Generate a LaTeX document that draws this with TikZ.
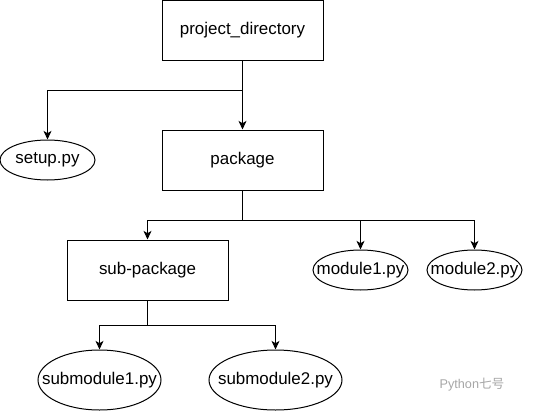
\documentclass[tikz,border=0pt]{standalone}
\usepackage{fontspec}
\setmainfont{Liberation Sans}
\newfontfamily\cjkfont{Noto Sans CJK SC}
\usetikzlibrary{arrows.meta,shapes.geometric}
\tikzset{%
	dirbox/.style  = {draw, rectangle, minimum width=120.75pt, minimum height=45pt, inner sep=0pt, text centered},
	filebox/.style = {draw, ellipse, inner sep=0pt, text centered},
	arrow/.style   = {->,>={Stealth[length=6.5pt,width=6pt,inset=1.8pt]}},
}

\begin{document}
\begin{tikzpicture}[x=0.75pt,y=-0.75pt,line width=0.75pt,font=\fontsize{12.7}{15}\selectfont]
		\useasboundingbox (0,0) rectangle (551,411);
		% directories
		\node[dirbox] (projdir) at (242.5,30.5) {project\_directory};
		\node[dirbox] (pkg) at (242.5,160) {package};
		\node[dirbox] (subpkg) at (147.5,270) {sub-package};
		
		% files
		\node[filebox, minimum width=71.25pt, minimum height=30pt] (setup) at (47.5,160) {\makebox[0pt]{setup.py}};
		\node[filebox, minimum width=71.25pt, minimum height=30pt] (mod1) at (360.5,270) {\makebox[0pt]{module1.py}};
		\node[filebox, minimum width=71.25pt, minimum height=30pt] (mod2) at (474.5,270) {\makebox[0pt]{module2.py}};
		\node[filebox, minimum width=92.25pt, minimum height=45pt] (submod1) at (99.5,380) {\makebox[0pt]{submodule1.py}};
		\node[filebox, minimum width=99.75pt, minimum height=45pt] (submod2) at (275.5,380) {\makebox[0pt]{submodule2.py}};
		
		% branch points
		\coordinate (jtop) at (242.5,90);
		\coordinate (jmid) at (242.5,220);
		\coordinate (jlow) at (147.5,325);
		
		% connectors
		\draw[arrow] (projdir) -- (pkg);
		\draw[arrow] (jtop) -| (setup.north);
		\draw (pkg) -- (jmid);
		\draw[arrow] (jmid) -| (subpkg.north);
		\draw[arrow] (jmid) -| (mod1.north);
		\draw[arrow] (jmid) -| (mod2.north);
		\draw (subpkg) -- (jlow);
		\draw[arrow] (jlow) -| (submod1.north);
		\draw[arrow] (jlow) -| (submod2.north);
		
		% watermark
		\node[text=black!35, font=\fontsize{9.5}{11}\selectfont] (mark) at (472,385) {Python{\cjkfont 七号}};
\end{tikzpicture}
\end{document}
